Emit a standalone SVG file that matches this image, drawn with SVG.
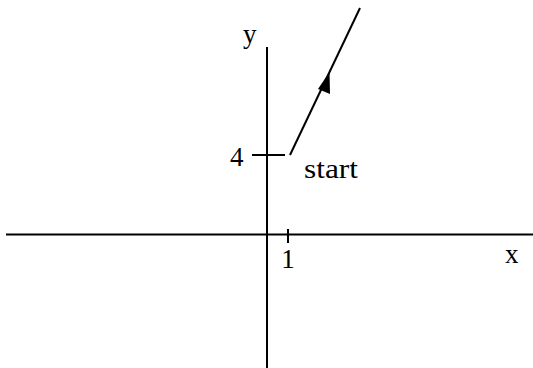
<svg xmlns="http://www.w3.org/2000/svg" width="533" height="368" viewBox="0 0 533 368">
<style>
.ax{stroke:#000;stroke-width:2;fill:none}
.t{font-family:"Liberation Serif","Times New Roman",serif;font-size:27px;fill:#000}
</style>
<rect width="533" height="368" fill="#fff"/>
<g id="axes">
<line class="ax" x1="6" y1="234.5" x2="533" y2="234.5"/>
<line class="ax" x1="267" y1="47" x2="267" y2="368"/>
<line class="ax" x1="252" y1="155" x2="285" y2="155"/>
<line class="ax" x1="288" y1="229" x2="288" y2="243"/>
</g>
<g id="labels">
<text class="t" x="243" y="43">y</text>
<text class="t" x="230" y="166">4</text>
<text class="t" x="288" y="268" text-anchor="middle">1</text>
<text class="t" x="505" y="263">x</text>
<text class="t" x="304" y="178" textLength="54" lengthAdjust="spacingAndGlyphs">start</text>
</g>
<g id="connectors">
<line class="ax" x1="290" y1="155" x2="360" y2="8"/>
<polygon points="329.5,72 318,89 330,94" fill="#000"/>
</g>
</svg>
